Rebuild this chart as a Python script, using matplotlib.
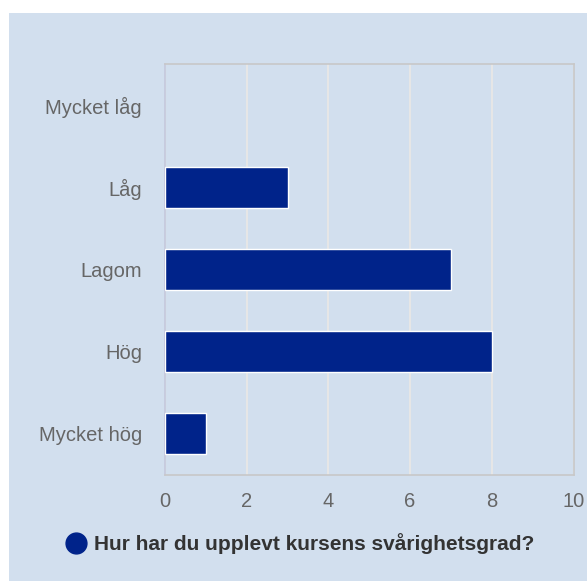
import matplotlib
matplotlib.use("Agg")
import matplotlib.pyplot as plt
from matplotlib.patches import Rectangle
from matplotlib.lines import Line2D

categories = ["Mycket låg", "Låg", "Lagom", "Hög", "Mycket hög"]
values = [0, 3, 7, 8, 1]
series_name = "Hur har du upplevt kursens svårighetsgrad?"
xticks = [0, 2, 4, 6, 8, 10]

bg = "#d2dfee"
bar_color = "#00238a"

plt.rcParams['font.family'] = ['Liberation Sans', 'DejaVu Sans']

fig = plt.figure(figsize=(5.87, 5.81), dpi=100)
fig.patch.set_facecolor("white")
fig.add_artist(Rectangle((9/587, 0), 1 - 9/587, (581 - 13)/581, transform=fig.transFigure,
                         facecolor=bg, edgecolor="none", zorder=-10))

ax = fig.add_axes([165/587, 1 - 475/581, (573.5 - 165)/587, (475 - 64)/581])
ax.set_facecolor(bg)

ypos = list(range(len(categories)))
edges = ["white" if v > 0 else "none" for v in values]
ax.barh(ypos, values, height=0.5, color=bar_color, edgecolor=edges, linewidth=1, zorder=3)

ax.set_xlim(0, 10)
ax.set_ylim(4.5, -0.51)
ax.set_xticks(xticks)
ax.set_xticklabels([str(t) for t in xticks])
ax.set_yticks(ypos)
ax.set_yticklabels(categories)
ax.tick_params(axis="y", length=0, pad=16.5, labelsize=14.5, labelcolor="#666666")
ax.tick_params(axis="x", length=0, pad=12, labelsize=14.5, labelcolor="#666666")
ax.grid(axis="x", color="#e6e6e6", linewidth=1.5, zorder=1)
for s in ax.spines.values():
    s.set_color("#c8c8c8")
    s.set_linewidth(1.2)
ax.spines["left"].set_color("#c4c8dc")

handle = Line2D([], [], marker="o", linestyle="none", markersize=15,
                markerfacecolor=bar_color, markeredgecolor=bar_color)
leg = fig.legend([handle], [series_name], loc="center left",
                 bbox_to_anchor=(42/587, 1 - 544/581), frameon=False,
                 handletextpad=0.1, handlelength=1.5,
                 prop={"size": 15, "weight": "bold"})
for t in leg.get_texts():
    t.set_color("#333333")

fig.savefig("out.png", dpi=100, facecolor=fig.get_facecolor())
